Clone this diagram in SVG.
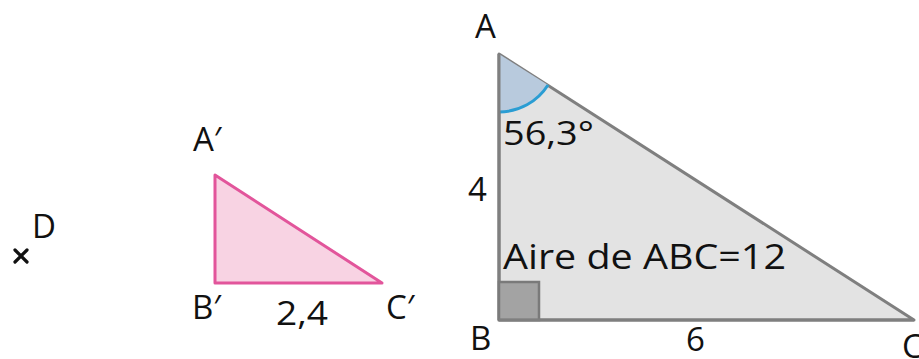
<svg xmlns="http://www.w3.org/2000/svg" width="919" height="359" viewBox="0 0 919 359">
<style>
text{font-family:"Open Sans","Noto Sans","Liberation Sans",sans-serif;font-size:33px;fill:#111111}
.big{fill:#e3e3e3;stroke:#7f7f7f;stroke-width:3;stroke-linejoin:round}
.pink{fill:#f8d3e3;stroke:#e2559b;stroke-width:3;stroke-linejoin:round}
</style>
<rect width="919" height="359" fill="#ffffff"/>
<g id="pointD">
<path d="M15 250 L27 262 M27 250 L15 262" stroke="#111111" stroke-width="3.2" stroke-linecap="round"/>
<text x="32" y="238">D</text>
</g>
<g id="triangleAprime">
<polygon class="pink" points="215,175 215,283 382,283"/>
<text x="193" y="151">A′</text>
<text x="192" y="319">B′</text>
<text x="386" y="319">C′</text>
<text x="276" y="325" textLength="52" lengthAdjust="spacingAndGlyphs">2,4</text>
</g>
<g id="triangleABC">
<polygon class="big" points="499,54 499,320 914,320"/>
<path d="M499,54 L499,112 A58,58 0 0 0 548,85 Z" fill="#b8cadd"/>
<path d="M499,112 A58,58 0 0 0 548,85" fill="none" stroke="#2a9dd3" stroke-width="3"/>
<line x1="499" y1="54" x2="499" y2="320" stroke="#7f7f7f" stroke-width="3"/>
<rect x="499" y="282" width="40" height="38" fill="#a3a3a3" stroke="#7a7a7a" stroke-width="2.5"/>
<line x1="499" y1="320" x2="914" y2="320" stroke="#7f7f7f" stroke-width="3"/>
<text x="475" y="38">A</text>
<text x="470" y="350">B</text>
<text x="902" y="358">C</text>
<text x="468" y="201">4</text>
<text x="686" y="351">6</text>
<text x="503" y="145" textLength="91" lengthAdjust="spacingAndGlyphs">56,3°</text>
<text x="503" y="269" textLength="283" lengthAdjust="spacingAndGlyphs" style="font-size:34px">Aire de ABC=12</text>
</g>
</svg>
